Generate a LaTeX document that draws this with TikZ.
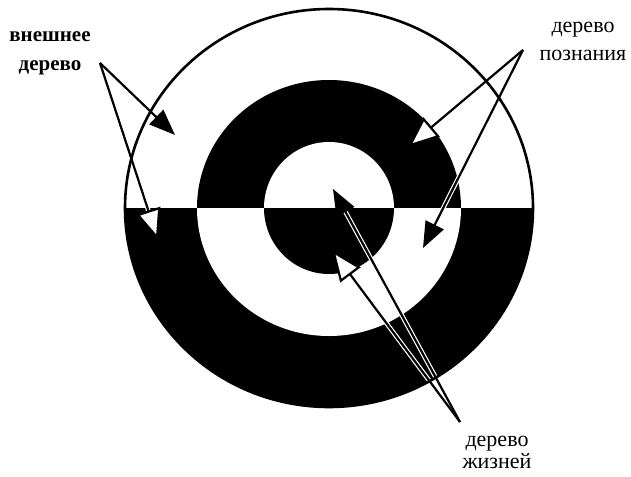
\documentclass[tikz,border=0pt]{standalone}
\usepackage{fontspec}
\setmainfont{Liberation Serif}
\usetikzlibrary{arrows.meta}
\begin{document}
\begin{tikzpicture}[x=1pt,y=-1pt,
  lbl/.style={font=\fontsize{22}{28}\selectfont, align=center, inner sep=0pt},
  halo/.style={draw=white, line width=4.6pt, shorten >=26pt, shorten <=2pt},
  ptr/.style={line width=2.2pt, -{Triangle[length=26pt,width=20pt]}},
  wptr/.style={line width=2.2pt, -{Triangle[length=31pt,width=25pt,fill=white]}}]
\useasboundingbox (0,0) rectangle (631,476);
\fill[white] (0,0) rectangle (631,476);
% rings
\fill[black] (533,208) arc[start angle=0,end angle=180,x radius=204,y radius=199] -- cycle;
\fill[black] (461,208) arc[start angle=0,end angle=-180,x radius=132,y radius=128] -- cycle;
\fill[white] (461,208) arc[start angle=0,end angle=180,x radius=132,y radius=128] -- cycle;
\fill[white] (394,208) arc[start angle=0,end angle=-180,x radius=65,y radius=66] -- cycle;
\fill[black] (394,208) arc[start angle=0,end angle=180,x radius=65,y radius=66] -- cycle;
% labels
\node[lbl, font=\bfseries\fontsize{21}{29}\selectfont] (ext) at (50,53) {внешнее\\дерево};
\node[lbl] (know) at (583,41) {дерево\\познания};
\node[lbl, font=\fontsize{22}{22}\selectfont] (life) at (497,452) {дерево\\жизней};
% arrow end points
\coordinate (es) at (100,63);
\coordinate (e1) at (175,135);
\coordinate (e2) at (158,240);
\coordinate (ks) at (523,50);
\coordinate (k1) at (408,147);
\coordinate (k2) at (423,248);
\coordinate (ls) at (460,422);
\coordinate (l1) at (333,189);
\coordinate (l2) at (332,250);
% halos
\draw[halo] (es) -- (e2);
\draw[halo] (ks) -- (k1);
\draw[halo] (ks) -- (k2);
\draw[halo] (ls) -- (l1);
\draw[halo] (ls) -- (l2);
% outer outline
\draw[line width=2.6pt] (329,208) ellipse[x radius=204,y radius=199];
% arrows
\draw[ptr] (es) -- (e1);
\draw[wptr] (es) -- (e2);
\draw[wptr] (ks) -- (k1);
\draw[ptr] (ks) -- (k2);
\draw[ptr] (ls) -- (l1);
\draw[wptr] (ls) -- (l2);
\end{tikzpicture}
\end{document}
